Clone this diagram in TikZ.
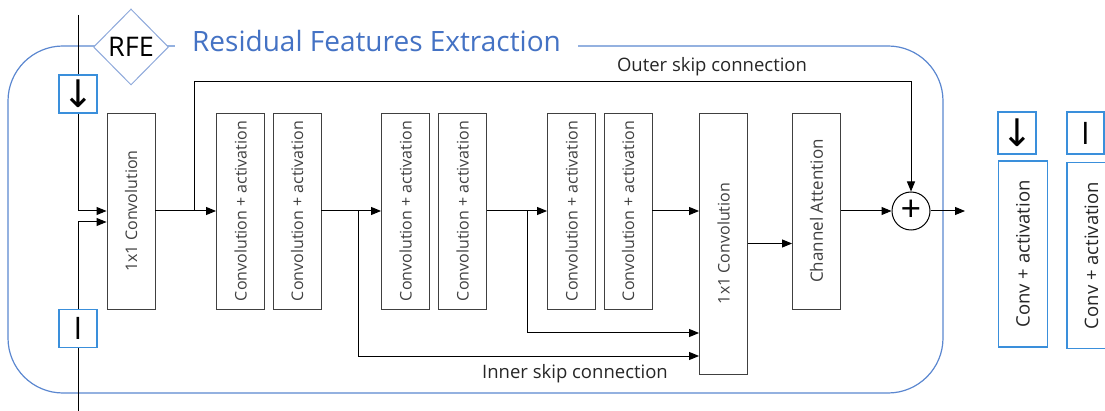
\documentclass[tikz,border=0pt]{standalone}
\usepackage{fontspec}
\setmainfont{Open Sans}
\newfontfamily\symfont{DejaVu Sans}
\usetikzlibrary{shapes.geometric,arrows.meta,calc}
\definecolor{frameblue}{HTML}{5B87D0}
\definecolor{titleblue}{HTML}{4472C4}
\definecolor{diamblue}{HTML}{8EA9DB}
\definecolor{boxblue}{HTML}{3A8FDB}
\definecolor{dgray}{HTML}{404040}
\definecolor{tgray}{HTML}{262626}
\begin{document}
\begin{tikzpicture}[x=1pt,y=-1pt,
  blk/.style={draw=dgray, line width=0.9pt, fill=white, inner sep=0pt,
    minimum width=48pt, minimum height=196pt, text=dgray,
    font=\fontsize{16}{18}\selectfont},
  sbox/.style={draw=boxblue, line width=1.2pt, fill=white, inner sep=0pt,
    minimum width=38pt, minimum height=38pt},
  cbox/.style={draw=boxblue, line width=1.2pt, fill=white, inner sep=0pt,
    minimum width=49pt, minimum height=186pt, text=tgray,
    font=\fontsize{18.5}{20}\selectfont},
  arr/.style={-{Triangle[length=10pt,width=8pt]}, line width=1pt, draw=black},
  lbl/.style={text=tgray, font=\fontsize{18.5}{20}\selectfont, inner sep=0pt, anchor=base},
  dnsym/.style={font=\symfont\fontsize{38}{38}\selectfont}
]
\useasboundingbox (0,0) rectangle (1105,411);
\clip (0,0) rectangle (1105,411);

% frame
\draw[frameblue, line width=1.2pt, rounded corners=55pt] (8,46) rectangle (943,393);
\node[fill=white, inner sep=2pt, minimum width=403pt, anchor=base,
  text=titleblue, font=\fontsize{28}{30}\selectfont] (title) at (376.5,52) {Residual Features Extraction};
\node[diamond, draw=diamblue, line width=1pt, fill=white, minimum width=75pt,
  minimum height=76pt, inner sep=0pt, font=\fontsize{27}{29}\selectfont] (rfe) at (131,47) {RFE};

% blocks
\node[blk] (c1) at (131,211) {\rotatebox{90}{1x1 Convolution}};
\node[blk] (a1) at (240.5,211) {\rotatebox{90}{Convolution + activation}};
\node[blk] (a2) at (297,211) {\rotatebox{90}{Convolution + activation}};
\node[blk] (a3) at (405.5,211) {\rotatebox{90}{Convolution + activation}};
\node[blk] (a4) at (462.5,211) {\rotatebox{90}{Convolution + activation}};
\node[blk] (a5) at (571.5,211) {\rotatebox{90}{Convolution + activation}};
\node[blk] (a6) at (628,211) {\rotatebox{90}{Convolution + activation}};
\node[blk, minimum height=261pt] (c2) at (723.5,243.5) {\rotatebox{90}{1x1 Convolution}};
\node[blk, font=\fontsize{17}{19}\selectfont] (ca) at (816.5,211) {\rotatebox{90}{Channel Attention}};
\node[draw=black, line width=1pt, circle, minimum size=38pt, inner sep=0pt,
  font=\fontsize{36}{36}\selectfont] (plus) at (911,211) {};
\node[inner sep=0pt, font=\fontsize{36}{36}\selectfont] (plussign) at (plus.center) {+};

% input lines
\coordinate (intop) at (78,15);
\coordinate (inbot) at (78,411);
\draw[arr] (intop) |- (c1.west);
\draw[arr] (inbot) |- ($(c1.west)+(0,11)$);

% main chain
\draw[arr] (c1.east) -- (a1.west);
\draw[arr] (a2.east) -- (a3.west);
\draw[arr] (a4.east) -- (a5.west);
\draw[arr] (a6.east) -- (c2.west |- a6.east);
\draw[arr] (c2.east) -- (ca.west |- c2.east);
\draw[arr] (ca.east) -- (plus.west);
\coordinate (out) at (965,211);
\draw[arr] (plus.east) -- (out);

% outer skip
\coordinate (o1) at (194,211);
\coordinate (o2) at (194,82);
\draw[arr] (o1) -- (o2) -| (plus.north);
\node[lbl] (olbl) at (712,72) {Outer skip connection};

% inner skips
\coordinate (i1) at (358,211);
\coordinate (i1b) at (358,356);
\draw[arr] (i1) -- (i1b) -- (c2.west |- i1b);
\coordinate (i2) at (527,211);
\coordinate (i2b) at (527,333);
\draw[arr] (i2) -- (i2b) -- (c2.west |- i2b);
\node[lbl] (ilbl) at (575,378) {Inner skip connection};

% small input boxes
\node[sbox] (dn) at (78,94) {};
\node[dnsym, inner sep=0pt] (dnt) at (dn.center) {↓};
\node[sbox, font=\fontsize{31}{31}\selectfont] (ii) at (78,328.5) {I};

% right side
\node[sbox, minimum height=42pt] (dn2) at (1017,133) {};
\node[dnsym, inner sep=0pt] (dnt2) at (dn2.center) {↓};
\node[sbox, minimum width=37pt, minimum height=42pt, font=\fontsize{31}{31}\selectfont] (ii2) at (1085.5,133) {I};
\node[cbox] (cv1) at (1023,254) {\rotatebox{90}{Conv + activation}};
\node[cbox] (cv2) at (1091.5,255.5) {\rotatebox{90}{Conv + activation}};
\end{tikzpicture}
\end{document}
